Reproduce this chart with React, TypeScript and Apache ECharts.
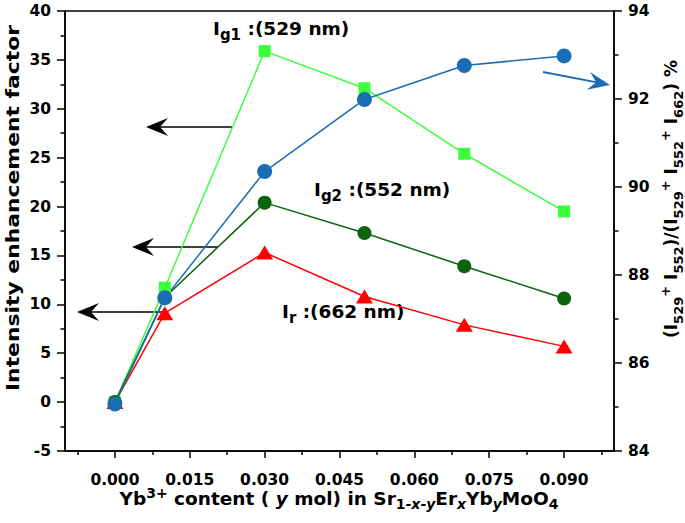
import React, { useEffect, useRef } from 'react';
import * as echarts from 'echarts';

const yContent = [0, 0.01, 0.03, 0.05, 0.07, 0.09];
const ig1 = [0, 11.7, 35.9, 32.1, 25.4, 19.5];
const ig2 = [0, 10.7, 20.4, 17.3, 13.9, 10.6];
const ir = [0, 9.1, 15.3, 10.8, 7.9, 5.7];
const ratio = [85.07, 87.48, 90.35, 91.99, 92.76, 92.98];
const xMajorTicks = [0, 0.015, 0.03, 0.045, 0.06, 0.075, 0.09];
const xMinorTicks = [-0.0075, 0.0075, 0.0225, 0.0375, 0.0525, 0.0675, 0.0825, 0.0975];

const FONT = 'DejaVu Sans';
const GREEN = '#3cff3c';
const DARK_GREEN = '#0a640a';
const RED = '#ff0000';
const BLUE = '#1b6db3';

function rich(fs: number, subFs: number, lh: number) {
  const base = { fontFamily: FONT, fontWeight: 'bold', fill: '#000', color: '#000' };
  return {
    m: { ...base, fontSize: fs, lineHeight: lh },
    i: { ...base, fontSize: fs, lineHeight: lh, fontStyle: 'italic' },
    s: { ...base, fontSize: subFs, height: 10, verticalAlign: 'bottom' },
    si: { ...base, fontSize: subFs, height: 10, verticalAlign: 'bottom', fontStyle: 'italic' },
    p: { ...base, fontSize: subFs, height: 12, verticalAlign: 'top' },
  };
}

function richText(x: number, y: number, text: string, fs: number, subFs: number, align: string, lh = 24, extra: any = {}) {
  return {
    type: 'text',
    x,
    y,
    ...extra,
    style: {
      text,
      rich: rich(fs, subFs, lh),
      fontFamily: FONT,
      fontWeight: 'bold',
      fontSize: fs,
      fill: '#000',
      align,
      verticalAlign: 'middle',
      textAlign: align,
      textVerticalAlign: 'middle',
    },
  };
}

function leftArrow(tipX: number, tailX: number, y: number, color: string) {
  return [
    { type: 'line', shape: { x1: tipX + 12, y1: y, x2: tailX, y2: y }, style: { stroke: color, lineWidth: 1.5 } },
    {
      type: 'polygon',
      shape: { points: [[tipX, y], [tipX + 22, y - 9], [tipX + 14, y], [tipX + 22, y + 9]] },
      style: { fill: color },
    },
  ];
}

export default function App() {
  const ref = useRef<HTMLDivElement>(null);
  useEffect(() => {
    if (!ref.current) return;
    const chart = echarts.init(ref.current, undefined, { renderer: 'svg' });
    const axisLabel = { fontFamily: FONT, fontWeight: 'bold', fontSize: 15.5, color: '#000' };
    const axisLine = { show: true, onZero: false, lineStyle: { color: '#000', width: 1.5 } };
    const mk = (vals: number[]) => yContent.map((x, i) => [x, vals[i]]);

    const bt = [610, 85];
    const bs = [543, 72];
    const dx = bt[0] - bs[0], dy = bt[1] - bs[1];
    const L = Math.hypot(dx, dy);
    const ux = dx / L, uy = dy / L, nx = -uy, ny = ux;
    const back = (d: number, w: number) => [bt[0] - ux * d + nx * w, bt[1] - uy * d + ny * w];

    chart.setOption({
      animation: false,
      backgroundColor: '#fff',
      grid: { left: 65, right: 71, top: 11, bottom: 72, show: true, borderColor: '#000', borderWidth: 1.5, backgroundColor: 'transparent' },
      xAxis: [
        {
          type: 'value', min: -0.01, max: 0.1, position: 'bottom',
          axisLine,
          axisTick: { show: true, inside: false, length: 7, lineStyle: { color: '#000', width: 1.5 }, customValues: xMajorTicks },
          axisLabel: { ...axisLabel, margin: 21, customValues: xMajorTicks, formatter: (v: number) => v.toFixed(3) },
          splitLine: { show: false },
        },
        {
          type: 'value', min: -0.01, max: 0.1, position: 'bottom',
          axisLine: { show: false, onZero: false },
          axisTick: { show: true, inside: false, length: 4, lineStyle: { color: '#000', width: 1.5 }, customValues: xMinorTicks },
          axisLabel: { show: false },
          splitLine: { show: false },
        },
      ],
      yAxis: [
        {
          type: 'value', min: -5, max: 40, interval: 5, position: 'left',
          axisLine,
          axisTick: { show: true, length: 8, lineStyle: { color: '#000', width: 1.5 } },
          minorTick: { show: true, splitNumber: 2, length: 4.5, lineStyle: { color: '#000', width: 1.5 } },
          axisLabel: { ...axisLabel, margin: 14 },
          splitLine: { show: false },
        },
        {
          type: 'value', min: 84, max: 94, interval: 2, position: 'right',
          axisLine,
          axisTick: { show: true, length: 8, lineStyle: { color: '#000', width: 1.5 } },
          minorTick: { show: true, splitNumber: 2, length: 4.5, lineStyle: { color: '#000', width: 1.5 } },
          axisLabel: { ...axisLabel, margin: 14 },
          splitLine: { show: false },
        },
      ],
      series: [
        { type: 'line', name: 'Ig1', data: mk(ig1), symbol: 'rect', symbolSize: 12, lineStyle: { color: GREEN, width: 1.5 }, itemStyle: { color: GREEN } },
        { type: 'line', name: 'Ir', data: mk(ir), symbol: 'triangle', symbolSize: [17, 14], lineStyle: { color: RED, width: 1.5 }, itemStyle: { color: RED } },
        { type: 'line', name: 'Ig2', data: mk(ig2), symbol: 'circle', symbolSize: 14, lineStyle: { color: DARK_GREEN, width: 1.5 }, itemStyle: { color: DARK_GREEN } },
        { type: 'line', name: 'ratio', yAxisIndex: 1, data: mk(ratio), symbol: 'circle', symbolSize: 15, lineStyle: { color: BLUE, width: 1.5 }, itemStyle: { color: BLUE } },
      ],
      graphic: [
        richText(213, 28, '{m|I}{s|g1}{m| :(529 nm)}', 18.5, 15, 'left'),
        richText(314, 189, '{m|I}{s|g2}{m| :(552 nm)}', 18.5, 15, 'left'),
        richText(282, 311, '{m|I}{s|r}{m| :(662 nm)}', 18.5, 15, 'left'),
        ...leftArrow(146, 232, 127, '#000'),
        ...leftArrow(132, 218, 247, '#000'),
        ...leftArrow(77, 163, 312, '#000'),
        { type: 'line', shape: { x1: bs[0], y1: bs[1], x2: back(12, 0)[0], y2: back(12, 0)[1] }, style: { stroke: BLUE, lineWidth: 1.8 } },
        { type: 'polygon', shape: { points: [bt, back(22, -9), back(14, 0), back(22, 9)] }, style: { fill: BLUE } },
        {
          type: 'text', x: 13, y: 208, rotation: Math.PI / 2, scaleX: 1.25,
          style: { text: 'Intensity enhancement factor', fontFamily: FONT, fontWeight: 'bold', fontSize: 17.5, fill: '#000', align: 'center', verticalAlign: 'middle', textAlign: 'center', textVerticalAlign: 'middle' },
        },
        richText(671, 199, '{m|(I}{s|529}{p|+}{m| I}{s|552}{m|)/(I}{s|529}{p|+}{m| I}{s|552}{p|+}{m| I}{s|662}{m|) %}', 17, 13, 'center', 24, { rotation: Math.PI / 2 }),
        richText(339, 498, '{m|Yb}{p|3+}{m| content ( }{i|y}{m| mol) in Sr}{s|1-}{si|x}{s|-}{si|y}{m|Er}{si|x}{m|Yb}{si|y}{m|MoO}{s|4}', 18.5, 14, 'center', 22),
      ],
    });
    return () => chart.dispose();
  }, []);
  return <div ref={ref} style={{ position: 'fixed', left: 0, top: 0, width: 685, height: 523 }} />;
}
